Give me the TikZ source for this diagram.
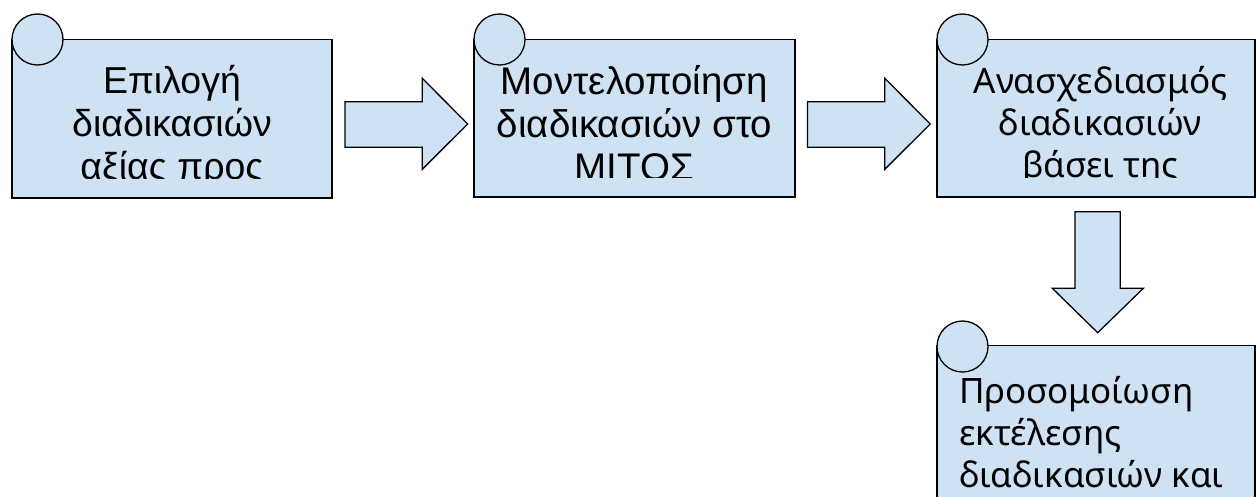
\documentclass[tikz,border=0pt]{standalone}
\usepackage{fontspec}
\setmainfont{Liberation Sans}
\newfontfamily\nsfont{Noto Sans}
\tikzset{
  pale/.style={fill=boxblue, draw=black, line width=1.3pt},
  boxtxt/.style={anchor=base, inner sep=0pt},
}
\definecolor{boxblue}{RGB}{207,226,243}
\begin{document}
\begin{tikzpicture}[x=1pt,y=-1pt]
\useasboundingbox (0,0) rectangle (1257,497);
\clip (0,0) rectangle (1257,497);
% boxes
\draw[pale] (12,39.5) rectangle (332,198);
\draw[pale] (474,39.5) rectangle (795,197);
\draw[pale] (937,39.5) rectangle (1255,197);
\draw[pale] (937,345.5) rectangle (1255,520);
\node[pale, circle, minimum size=51pt, inner sep=0pt] (c1) at (37.5,39.5) {};
\node[pale, circle, minimum size=51pt, inner sep=0pt] (c2) at (499.5,39.5) {};
\node[pale, circle, minimum size=51pt, inner sep=0pt] (c3) at (962.5,39.5) {};
\node[pale, circle, minimum size=51pt, inner sep=0pt] (c4) at (962.5,346.5) {};
% texts
\begin{scope}
\clip (12,39.5) rectangle (332,179);
\node[boxtxt] (t1) at (172,94) {\parbox[t]{318pt}{\centering\fontsize{37.5}{43}\selectfont Επιλογή\\διαδικασιών\\αξίας προς}};
\end{scope}
\begin{scope}
\clip (474,39.5) rectangle (795,178);
\node[boxtxt] (t2) at (634.5,95) {\parbox[t]{318pt}{\centering\fontsize{38.5}{43}\selectfont Μοντελοποίηση\\διαδικασιών στο\\ΜΙΤΟΣ}};
\end{scope}
\begin{scope}
\clip (937,39.5) rectangle (1255,178);
\node[boxtxt] (t3) at (1100.5,94) {\parbox[t]{318pt}{\centering\nsfont\fontsize{35}{42}\selectfont Ανασχεδιασμός\\διαδικασιών\\βάσει της}};
\end{scope}
\node[boxtxt, anchor=base west] (t4) at (959,403) {\parbox[t]{300pt}{\raggedright\nsfont\fontsize{35}{42}\selectfont Προσομοίωση\\εκτέλεσης\\διαδικασιών και}};
% block arrows
\draw[pale, line join=miter] (345,101.7) -- (422.3,101.7) -- (422.3,78.3) -- (467.7,124) -- (422.3,169.3) -- (422.3,147.3) -- (345,147.3) -- cycle;
\draw[pale, line join=miter] (807.5,101.7) -- (884.8,101.7) -- (884.8,78.3) -- (930.2,124) -- (884.8,169.3) -- (884.8,147.3) -- (807.5,147.3) -- cycle;
\draw[pale, line join=miter] (1075,211.7) -- (1120.3,211.7) -- (1120.3,288.3) -- (1143.3,288.3) -- (1097.7,332.7) -- (1052.3,288.3) -- (1075,288.3) -- cycle;
\end{tikzpicture}
\end{document}
